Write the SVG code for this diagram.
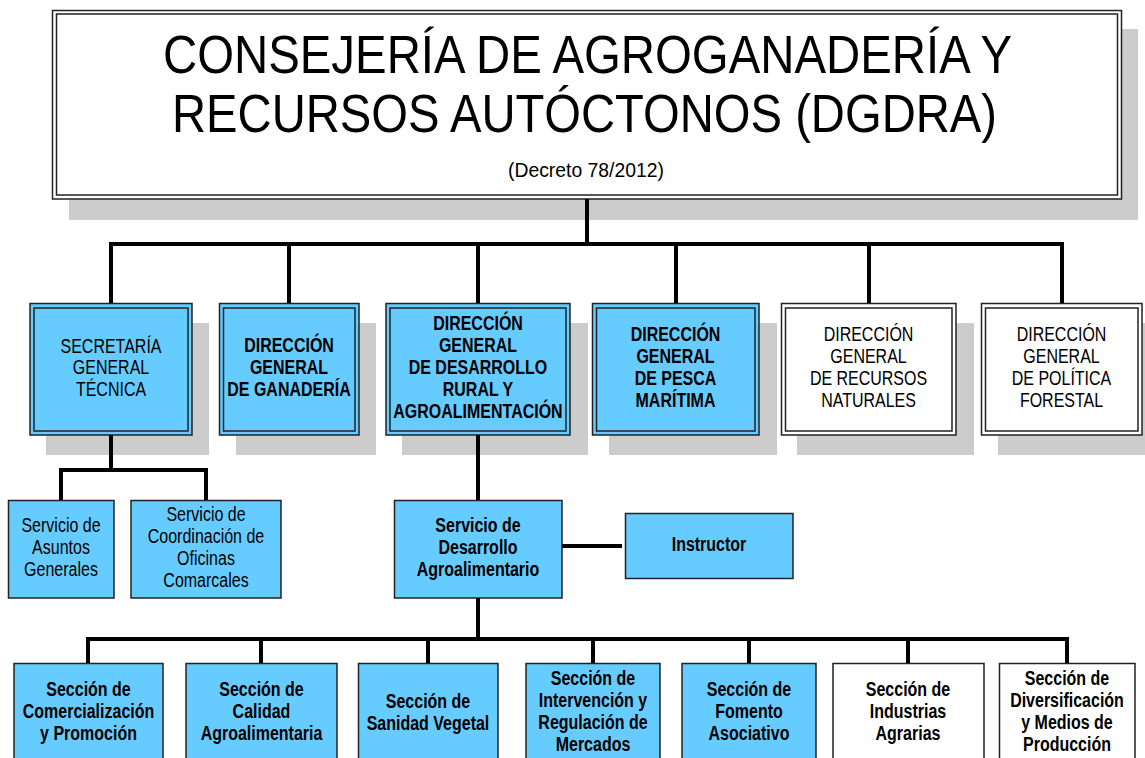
<svg xmlns="http://www.w3.org/2000/svg" width="1145" height="758" viewBox="0 0 1145 758">
<style>
.bg{fill:#ffffff}
.sh{fill:#cccccc}
.blue{fill:#66ccff}
.white{fill:#ffffff}
.b1{stroke:#222222;stroke-width:1.5}
.b2{stroke:#222222;stroke-width:1.5;fill:none}
.t{font-family:"Liberation Sans",Arial,sans-serif;font-size:19.5px;fill:#000;text-anchor:middle}
.tb{font-family:"Liberation Sans",Arial,sans-serif;font-size:19.5px;font-weight:bold;fill:#000;text-anchor:middle}
.big{font-family:"Liberation Sans",Arial,sans-serif;font-size:53px;fill:#000;text-anchor:middle}
.con{stroke:#000;stroke-width:4;fill:none;stroke-linejoin:miter;stroke-linecap:butt}
</style>
<rect class="bg" x="0" y="0" width="1145" height="758"/>

<g id="title">
<rect class="sh" x="69" y="29" width="1069" height="191"/>
<rect class="white b1" x="52.5" y="10.5" width="1069" height="188.5"/>
<rect class="b2" x="56.5" y="14" width="1061" height="181"/>
<text class="big" x="587.5" y="73" textLength="849" lengthAdjust="spacingAndGlyphs">CONSEJERÍA DE AGROGANADERÍA Y</text>
<text class="big" x="584.5" y="132" textLength="825" lengthAdjust="spacingAndGlyphs">RECURSOS AUTÓCTONOS (DGDRA)</text>
<text class="t" x="586" y="177" textLength="156" lengthAdjust="spacingAndGlyphs">(Decreto 78/2012)</text>
</g>

<g id="sgt">
<rect class="sh" x="46" y="323" width="163" height="132"/>
<rect class="blue b1" x="30" y="303.5" width="162" height="131.5"/>
<rect class="b2" x="34" y="308" width="154" height="123"/>
<g transform="translate(111 0) scale(0.82 1)">
<text class="t" x="0" y="353">SECRETARÍA</text>
<text class="t" x="0" y="374.5">GENERAL</text>
<text class="t" x="0" y="396">TÉCNICA</text>
</g>
</g>

<g id="dg-ganaderia">
<rect class="sh" x="236" y="323" width="140" height="132"/>
<rect class="blue b1" x="219.5" y="303.5" width="139.5" height="131.5"/>
<rect class="b2" x="223.5" y="308" width="131.5" height="123"/>
<g transform="translate(289 0) scale(0.82 1)">
<text class="tb" x="0" y="352">DIRECCIÓN</text>
<text class="tb" x="0" y="374">GENERAL</text>
<text class="tb" x="0" y="396">DE GANADERÍA</text>
</g>
</g>

<g id="dg-desarrollo">
<rect class="sh" x="402" y="323" width="186" height="132"/>
<rect class="blue b1" x="386" y="303.5" width="184" height="131.5"/>
<rect class="b2" x="390" y="308" width="176" height="123"/>
<g transform="translate(478 0) scale(0.82 1)">
<text class="tb" x="0" y="330">DIRECCIÓN</text>
<text class="tb" x="0" y="352">GENERAL</text>
<text class="tb" x="0" y="374">DE DESARROLLO</text>
<text class="tb" x="0" y="396">RURAL Y</text>
<text class="tb" x="0" y="418">AGROALIMENTACIÓN</text>
</g>
</g>

<g id="dg-pesca">
<rect class="sh" x="609" y="323" width="168" height="132"/>
<rect class="blue b1" x="592.5" y="303.5" width="166.5" height="131.5"/>
<rect class="b2" x="596.5" y="308" width="158.5" height="123"/>
<g transform="translate(675.5 0) scale(0.82 1)">
<text class="tb" x="0" y="341">DIRECCIÓN</text>
<text class="tb" x="0" y="363">GENERAL</text>
<text class="tb" x="0" y="385">DE PESCA</text>
<text class="tb" x="0" y="407">MARÍTIMA</text>
</g>
</g>

<g id="dg-recursos">
<rect class="sh" x="797" y="323" width="177" height="132"/>
<rect class="white b1" x="781.5" y="303.5" width="174.5" height="131.5"/>
<rect class="b2" x="785.5" y="308" width="166.5" height="123"/>
<g transform="translate(868.5 0) scale(0.82 1)">
<text class="t" x="0" y="341">DIRECCIÓN</text>
<text class="t" x="0" y="363">GENERAL</text>
<text class="t" x="0" y="385">DE RECURSOS</text>
<text class="t" x="0" y="407">NATURALES</text>
</g>
</g>

<g id="dg-forestal">
<rect class="sh" x="998" y="323" width="160" height="132"/>
<rect class="white b1" x="981.5" y="303.5" width="160.5" height="131.5"/>
<rect class="b2" x="985.5" y="308" width="152.5" height="123"/>
<g transform="translate(1061.5 0) scale(0.82 1)">
<text class="t" x="0" y="341">DIRECCIÓN</text>
<text class="t" x="0" y="363">GENERAL</text>
<text class="t" x="0" y="385">DE POLÍTICA</text>
<text class="t" x="0" y="407">FORESTAL</text>
</g>
</g>

<g id="sv-asuntos">
<rect class="blue b1" x="8.5" y="500.5" width="105.5" height="97.5"/>
<g transform="translate(61 0) scale(0.82 1)">
<text class="t" x="0" y="532">Servicio de</text>
<text class="t" x="0" y="554">Asuntos</text>
<text class="t" x="0" y="576">Generales</text>
</g>
</g>

<g id="sv-coordinacion">
<rect class="blue b1" x="131" y="500.5" width="150" height="97.5"/>
<g transform="translate(206 0) scale(0.82 1)">
<text class="t" x="0" y="521">Servicio de</text>
<text class="t" x="0" y="543">Coordinación de</text>
<text class="t" x="0" y="565">Oficinas</text>
<text class="t" x="0" y="587">Comarcales</text>
</g>
</g>

<g id="sv-desarrollo">
<rect class="blue b1" x="394.5" y="500.5" width="167.5" height="97.5"/>
<g transform="translate(478 0) scale(0.82 1)">
<text class="tb" x="0" y="532">Servicio de</text>
<text class="tb" x="0" y="554">Desarrollo</text>
<text class="tb" x="0" y="576">Agroalimentario</text>
</g>
</g>

<g id="instructor">
<rect class="blue b1" x="625.5" y="513.5" width="167.5" height="65"/>
<g transform="translate(709 0) scale(0.82 1)">
<text class="tb" x="0" y="551">Instructor</text>
</g>
</g>

<g id="sec-comercializacion">
<rect class="blue b1" x="14" y="663.5" width="149" height="110"/>
<g transform="translate(88.5 0) scale(0.82 1)">
<text class="tb" x="0" y="696">Sección de</text>
<text class="tb" x="0" y="718">Comercialización</text>
<text class="tb" x="0" y="740">y Promoción</text>
</g>
</g>

<g id="sec-calidad">
<rect class="blue b1" x="186" y="663.5" width="151" height="110"/>
<g transform="translate(261.5 0) scale(0.82 1)">
<text class="tb" x="0" y="696">Sección de</text>
<text class="tb" x="0" y="718">Calidad</text>
<text class="tb" x="0" y="740">Agroalimentaria</text>
</g>
</g>

<g id="sec-sanidad">
<rect class="blue b1" x="358.5" y="663.5" width="139.5" height="110"/>
<g transform="translate(428 0) scale(0.82 1)">
<text class="tb" x="0" y="708">Sección de</text>
<text class="tb" x="0" y="730">Sanidad Vegetal</text>
</g>
</g>

<g id="sec-intervencion">
<rect class="blue b1" x="526" y="663.5" width="134" height="110"/>
<g transform="translate(593 0) scale(0.82 1)">
<text class="tb" x="0" y="685">Sección de</text>
<text class="tb" x="0" y="707">Intervención y</text>
<text class="tb" x="0" y="729">Regulación de</text>
<text class="tb" x="0" y="751">Mercados</text>
</g>
</g>

<g id="sec-fomento">
<rect class="blue b1" x="682" y="663.5" width="134" height="110"/>
<g transform="translate(749 0) scale(0.82 1)">
<text class="tb" x="0" y="696">Sección de</text>
<text class="tb" x="0" y="718">Fomento</text>
<text class="tb" x="0" y="740">Asociativo</text>
</g>
</g>

<g id="sec-industrias">
<rect class="white b1" x="833" y="663.5" width="151" height="110"/>
<g transform="translate(908 0) scale(0.82 1)">
<text class="tb" x="0" y="696">Sección de</text>
<text class="tb" x="0" y="718">Industrias</text>
<text class="tb" x="0" y="740">Agrarias</text>
</g>
</g>

<g id="sec-diversificacion">
<rect class="white b1" x="999.5" y="663.5" width="135.5" height="110"/>
<g transform="translate(1067 0) scale(0.82 1)">
<text class="tb" x="0" y="685">Sección de</text>
<text class="tb" x="0" y="707">Diversificación</text>
<text class="tb" x="0" y="729">y Medios de</text>
<text class="tb" x="0" y="751">Producción</text>
</g>
</g>

<g id="connectors">
<path class="con" d="M587 199 V244 M109 244 H1064 M111 244 V303 M289 244 V303 M478 244 V303 M676 244 V303 M869 244 V303 M1062 244 V303"/>
<path class="con" d="M111 435 V470 M61 500 V470 H206 V500"/>
<path class="con" d="M478 435 V500"/>
<path class="con" d="M562 546 H622"/>
<path class="con" d="M478 598 V639 M88 663 V639 H1067 V663 M261 639 V663 M428 639 V663 M593 639 V663 M749 639 V663 M908 639 V663"/>
</g>
</svg>
